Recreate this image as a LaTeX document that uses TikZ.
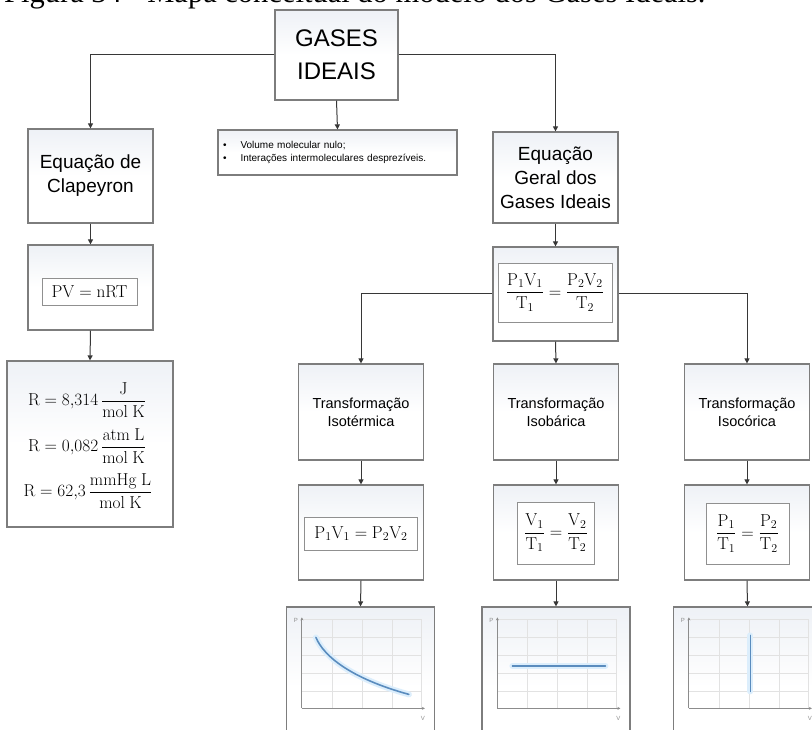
\documentclass[tikz,border=0pt]{standalone}
\usepackage{amsmath}
\usepackage[no-math]{fontspec}
\setmainfont{Liberation Sans}
\newfontfamily\captfont{Liberation Serif}
\usetikzlibrary{arrows.meta,calc}
\definecolor{boxgray}{RGB}{125,125,125}
\definecolor{boxtop}{RGB}{238,241,246}
\definecolor{linegray}{RGB}{55,55,55}
\definecolor{gridc}{RGB}{226,226,226}
\definecolor{axisc}{RGB}{140,140,140}
\definecolor{curveblue}{RGB}{90,140,190}
\definecolor{glowc}{RGB}{220,238,252}
\begin{document}
\begin{tikzpicture}[x=1pt,y=-1pt,
  box/.style={draw=boxgray, line width=1.2pt, top color=boxtop, bottom color=white, middle color=white, minimum width=125pt, inner sep=0pt, align=center},
  ibox/.style={draw=boxgray!85, line width=0.8pt, fill=white, inner sep=0pt},
  conn/.style={draw=linegray, line width=1pt},
  arr/.style={conn, -{Triangle[width=5pt,length=5pt]}},
  ttext/.style={font=\fontsize{19}{24}\selectfont},
  trtext/.style={font=\fontsize{14.5}{18}\selectfont},
  mth/.style={font=\fontsize{17}{20}\selectfont, inner sep=0pt},
  gridl/.style={draw=gridc, line width=0.7pt},
  axisl/.style={draw=axisc, line width=0.9pt, -{Stealth[length=3pt,width=3pt]}},
  lbl/.style={font=\fontsize{6}{6}\selectfont, text=axisc, inner sep=0pt},
  crv/.style={draw=curveblue, line width=1.6pt, line cap=round},
  glow/.style={draw=glowc, line width=6pt, line cap=round}
]
\useasboundingbox (0,0) rectangle (812,730);
\begin{scope}
\clip (0,0) rectangle (812,730);
% caption (cut off at top)
\node[font=\captfont\fontsize{30.5}{31}\selectfont, anchor=base west, inner sep=0pt] (cap) at (4,2.5) {Figura 34 - Mapa conceitual do modelo dos Gases Ideais.};

% top
\node[box, minimum width=123pt, minimum height=90pt, font=\fontsize{24}{33}\selectfont] (gases) at (336.5,55) {GASES\\IDEAIS};
\node[box, minimum width=239pt, minimum height=45pt, text width=229pt, inner xsep=5pt, align=left, font=\fontsize{10}{13}\selectfont] (bul) at (337.5,152.5) {\textbullet\hspace{14pt}Volume molecular nulo;\\\textbullet\hspace{14pt}Interações intermoleculares desprezíveis.};

% left column
\node[box, minimum height=94pt, ttext] (clap) at (90.5,176) {Equação de\\Clapeyron};
\node[box, minimum height=85pt] (pv) at (90.5,287.5) {};
\node[ibox, minimum width=95pt, minimum height=27pt, mth] (pvf) at (89.5,291.5) {$\mathrm{PV}=\mathrm{nRT}$};
\node[box, minimum width=166pt, minimum height=166pt] (rbox) at (90,444) {};
\node[font=\fontsize{16}{18}\selectfont, inner sep=0pt] (r1) at (87,400) {$\mathrm{R}=8{,}314\,\dfrac{\mathrm{J}}{\mathrm{mol\ K}}$};
\node[font=\fontsize{16}{18}\selectfont, inner sep=0pt] (r2) at (87,446) {$\mathrm{R}=0{,}082\,\dfrac{\mathrm{atm\ L}}{\mathrm{mol\ K}}$};
\node[font=\fontsize{16}{18}\selectfont, inner sep=0pt] (r3) at (88,491) {$\mathrm{R}=62{,}3\,\dfrac{\mathrm{mmHg\ L}}{\mathrm{mol\ K}}$};

% right part
\node[box, minimum height=91pt, ttext] (geral) at (555.5,177.5) {Equação\\Geral dos\\Gases Ideais};
\node[box, minimum height=94pt] (eq) at (555.5,294) {};
\node[ibox, minimum width=114pt, minimum height=59pt, mth] (eqf) at (555,292.5) {$\dfrac{\mathrm{P_1V_1}}{\mathrm{T_1}}=\dfrac{\mathrm{P_2V_2}}{\mathrm{T_2}}$};

\node[box, minimum height=96pt, trtext] (t1) at (361,412) {Transformação\\Isotérmica};
\node[box, minimum height=96pt, trtext] (t2) at (556,412) {Transformação\\Isobárica};
\node[box, minimum height=96pt, trtext] (t3) at (747,412) {Transformação\\Isocórica};

\node[box, minimum height=95pt] (f1) at (361,532.5) {};
\node[box, minimum height=95pt] (f2) at (556,532.5) {};
\node[box, minimum height=95pt] (f3) at (747,532.5) {};
\node[ibox, minimum width=113pt, minimum height=33pt, mth, font=\fontsize{18}{20}\selectfont] (f1f) at (361,533.5) {$\mathrm{P_1V_1}=\mathrm{P_2V_2}$};
\node[ibox, minimum width=77pt, minimum height=62pt, mth] (f2f) at (556,533) {$\dfrac{\mathrm{V_1}}{\mathrm{T_1}}=\dfrac{\mathrm{V_2}}{\mathrm{T_2}}$};
\node[ibox, minimum width=83pt, minimum height=61pt, mth] (f3f) at (747.5,533.5) {$\dfrac{\mathrm{P_1}}{\mathrm{T_1}}=\dfrac{\mathrm{P_2}}{\mathrm{T_2}}$};

\node[box, minimum width=148pt, minimum height=160pt] (g1) at (360.5,687) {};
\node[box, minimum width=148pt, minimum height=160pt] (g2) at (556,687) {};
\node[box, minimum width=148pt, minimum height=160pt] (g3) at (747.5,687) {};

% graph contents
\foreach \g/\k in {g1/1,g2/2,g3/3}{
  \begin{scope}[shift={(\g.north west)}]
    \foreach \xx in {46,76,106,135} \draw[gridl] (\xx,13) -- (\xx,102);
    \foreach \yy in {13,31,49,67,85} \draw[gridl] (16,\yy) -- (135,\yy);
    \coordinate (o\k) at (16,102);
    \coordinate (yt\k) at (16,11);
    \coordinate (xr\k) at (139,102);
    \draw[axisl] (o\k) -- (yt\k);
    \draw[axisl] (o\k) -- (xr\k);
    \node[lbl] (p\k) at (10,14) {P};
    \node[lbl] (v\k) at (137,112) {V};
  \end{scope}
}
\begin{scope}[shift={(g1.north west)}]
  \coordinate (c1a) at (30,31);
  \coordinate (c1b) at (123,88);
  \draw[glow] (c1a) .. controls (38,50) and (65,72) .. (c1b);
  \draw[crv] (c1a) .. controls (38,50) and (65,72) .. (c1b);
\end{scope}
\begin{scope}[shift={(g2.north west)}]
  \coordinate (c2a) at (31,59.5);
  \coordinate (c2b) at (124,59.5);
  \draw[glow] (c2a) -- (c2b);
  \draw[crv] (c2a) -- (c2b);
\end{scope}
\begin{scope}[shift={(g3.north west)}]
  \coordinate (c3a) at (77.5,29);
  \coordinate (c3b) at (77.5,85);
  \draw[glow] (c3a) -- (c3b);
  \draw[crv] (c3a) -- (c3b);
\end{scope}

% connectors
\draw[arr] (gases.west) -| (clap.north);
\draw[arr] (gases.east) -| (geral.north);
\draw[arr] (gases.south) -- (bul.north);
\draw[arr] (clap.south) -- (pv.north);
\draw[arr] (pv.south) -- (rbox.north);
\draw[arr] (geral.south) -- (eq.north);
\draw[arr] (eq.west) -| (t1.north);
\draw[arr] (eq.south) -- (t2.north);
\draw[arr] (eq.east) -| (t3.north);
\draw[arr] (t1.south) -- (f1.north);
\draw[arr] (t2.south) -- (f2.north);
\draw[arr] (t3.south) -- (f3.north);
\draw[arr] (f1.south) -- (g1.north);
\draw[arr] (f2.south) -- (g2.north);
\draw[arr] (f3.south) -- (g3.north);
\end{scope}
\end{tikzpicture}
\end{document}
